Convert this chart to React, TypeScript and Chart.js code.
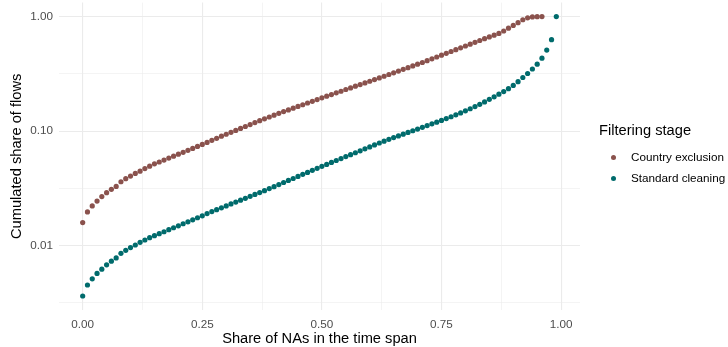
import React, { useEffect, useRef } from 'react';
import { Chart, registerables } from 'chart.js';

Chart.register(...registerables);

// Share of NAs in the time span (x values)
const naShare = [
  0, 0.01, 0.02, 0.03, 0.04, 0.05, 0.06, 0.07, 0.08, 0.09,
  0.1, 0.11, 0.12, 0.13, 0.14, 0.15, 0.16, 0.17, 0.18, 0.19,
  0.2, 0.21, 0.22, 0.23, 0.24, 0.25, 0.26, 0.27, 0.28, 0.29,
  0.3, 0.31, 0.32, 0.33, 0.34, 0.35, 0.36, 0.37, 0.38, 0.39,
  0.4, 0.41, 0.42, 0.43, 0.44, 0.45, 0.46, 0.47, 0.48, 0.49,
  0.5, 0.51, 0.52, 0.53, 0.54, 0.55, 0.56, 0.57, 0.58, 0.59,
  0.6, 0.61, 0.62, 0.63, 0.64, 0.65, 0.66, 0.67, 0.68, 0.69,
  0.7, 0.71, 0.72, 0.73, 0.74, 0.75, 0.76, 0.77, 0.78, 0.79,
  0.8, 0.81, 0.82, 0.83, 0.84, 0.85, 0.86, 0.87, 0.88, 0.89,
  0.9, 0.91, 0.92, 0.93, 0.94, 0.95, 0.96, 0.97, 0.98, 0.99,
];

// Cumulated share of flows — Country exclusion (x = 0 … 0.96)
const countryExclusion = [
  0.0159, 0.0197, 0.0222, 0.0245, 0.0268, 0.029, 0.031, 0.0329, 0.0361, 0.0384,
  0.0405, 0.0427, 0.0447, 0.0471, 0.0494, 0.0518, 0.0537, 0.0558, 0.0581, 0.0604,
  0.0628, 0.0653, 0.0679, 0.0706, 0.0735, 0.0764, 0.0796, 0.083, 0.0865, 0.0902,
  0.0938, 0.0975, 0.1014, 0.1054, 0.1096, 0.114, 0.1186, 0.1233, 0.1279, 0.1327,
  0.1377, 0.1429, 0.1479, 0.1531, 0.1585, 0.1641, 0.1698, 0.1758, 0.182, 0.1884,
  0.195, 0.2018, 0.2084, 0.2158, 0.2228, 0.2307, 0.2382, 0.2466, 0.2547, 0.2636,
  0.2723, 0.2818, 0.2911, 0.3013, 0.3119, 0.3228, 0.3342, 0.3459, 0.3581, 0.3707,
  0.3837, 0.3972, 0.4121, 0.4276, 0.4436, 0.4603, 0.4775, 0.4955, 0.514, 0.5333,
  0.5534, 0.5741, 0.5957, 0.618, 0.6412, 0.6637, 0.6871, 0.7129, 0.7482, 0.7925,
  0.8375, 0.8851, 0.9376, 0.975, 0.9931, 0.9977, 1.0,
];

// Cumulated share of flows — Standard cleaning (x = 0 … 0.99)
const standardCleaning = [
  0.00363, 0.00453, 0.00513, 0.00572, 0.00622, 0.00679, 0.00731, 0.0078, 0.00857, 0.0091,
  0.00962, 0.01012, 0.01069, 0.01119, 0.01172, 0.01222, 0.01271, 0.01321, 0.01377, 0.01432,
  0.01489, 0.01552, 0.01614, 0.01679, 0.0175, 0.0182, 0.01906, 0.01982, 0.02061, 0.02138,
  0.02223, 0.02312, 0.02399, 0.02495, 0.02588, 0.02692, 0.02799, 0.02904, 0.0302, 0.03148,
  0.03273, 0.03412, 0.03556, 0.03707, 0.03855, 0.04018, 0.04188, 0.04355, 0.04539, 0.04732,
  0.0492, 0.05117, 0.05321, 0.05534, 0.05754, 0.05984, 0.06223, 0.06471, 0.0673, 0.06998,
  0.07278, 0.07568, 0.0787, 0.08166, 0.08472, 0.0877, 0.09078, 0.09397, 0.09727, 0.1007,
  0.1042, 0.1079, 0.1117, 0.1156, 0.1197, 0.1239, 0.1285, 0.1334, 0.1387, 0.1442,
  0.1503, 0.1567, 0.1637, 0.1714, 0.1799, 0.1892, 0.1991, 0.2099, 0.2213, 0.2344,
  0.2506, 0.2698, 0.2938, 0.3184, 0.3483, 0.3837, 0.4335, 0.5093, 0.6281, 1.0,
];

const seriesNames = ['Country exclusion', 'Standard cleaning'];
const seriesColors = ['#8A524D', '#006B6C'];
const legendTitle = 'Filtering stage';

const xTickValues = [0, 0.25, 0.5, 0.75, 1];
const xTickLabels = ['0.00', '0.25', '0.50', '0.75', '1.00'];
const xMinorTicks = [0.125, 0.375, 0.625, 0.875];
const yTickValues = [0.01, 0.1, 1];
const yTickLabels = ['0.01', '0.10', '1.00'];
const yMinorTicks = [0.00316, 0.0316, 0.316];

const FONT = "'Liberation Sans', Arial, Helvetica, sans-serif";

export default function App() {
  const canvasRef = useRef<HTMLCanvasElement | null>(null);

  useEffect(() => {
    const canvas = canvasRef.current;
    if (!canvas) return;
    const seriesValues = [countryExclusion, standardCleaning];
    const datasets = seriesValues.map((vals, si) => ({
      label: seriesNames[si],
      data: vals.map((v, i) => ({ x: naShare[i], y: v })),
      backgroundColor: seriesColors[si],
      borderWidth: 0,
      pointRadius: 2.6,
      pointHoverRadius: 2.6,
    }));

    const chart = new Chart(canvas, {
      type: 'scatter',
      data: { datasets },
      options: {
        animation: false,
        responsive: false,
        devicePixelRatio: 1,
        layout: { padding: { top: 1, right: 148, left: 0, bottom: 0 } },
        plugins: { legend: { display: false }, tooltip: { enabled: false } },
        scales: {
          x: {
            type: 'linear',
            min: -0.0495,
            max: 1.0395,
            afterBuildTicks: (s: any) => {
              s.ticks = [...xMinorTicks, ...xTickValues]
                .sort((a, b) => a - b)
                .map((v) => ({ value: v }));
            },
            afterFit: (s: any) => {
              s.height = 37;
              s.paddingLeft = 0;
              s.paddingRight = 0;
            },
            grid: {
              color: '#EBEBEB',
              lineWidth: (c: any) => (c.tick && xTickValues.includes(c.tick.value) ? 1.1 : 0.55),
              drawTicks: false,
            },
            border: { display: false },
            ticks: {
              padding: 8,
              color: '#4D4D4D',
              autoSkip: false,
              maxRotation: 0,
              font: { size: 11.7, family: FONT },
              callback: (v: any) => {
                const i = xTickValues.indexOf(v);
                return i >= 0 ? xTickLabels[i] : '';
              },
            },
            title: {
              display: true,
              text: 'Share of NAs in the time span',
              color: '#000000',
              font: { size: 14.67, family: FONT, lineHeight: 1.1 },
              padding: { top: 0, bottom: 0 },
            },
          },
          y: {
            type: 'logarithmic',
            min: 0.00274,
            max: 1.324,
            afterBuildTicks: (s: any) => {
              s.ticks = [...yMinorTicks, ...yTickValues]
                .sort((a, b) => a - b)
                .map((v) => ({ value: v }));
            },
            afterFit: (s: any) => {
              s.width = 59;
              s.paddingTop = 0;
              s.paddingBottom = 0;
            },
            grid: {
              color: '#EBEBEB',
              lineWidth: (c: any) => (c.tick && yTickValues.includes(c.tick.value) ? 1.1 : 0.55),
              drawTicks: false,
            },
            border: { display: false },
            ticks: {
              padding: 6,
              color: '#4D4D4D',
              autoSkip: false,
              font: { size: 11.7, family: FONT },
              callback: (v: any) => {
                const i = yTickValues.indexOf(v);
                return i >= 0 ? yTickLabels[i] : '';
              },
            },
            title: {
              display: true,
              text: 'Cumulated share of flows',
              color: '#000000',
              font: { size: 14.67, family: FONT },
              padding: { top: 8, bottom: 0 },
            },
          },
        },
      },
    });
    return () => chart.destroy();
  }, []);

  return (
    <div
      style={{
        position: 'fixed',
        left: 0,
        top: 0,
        width: 728,
        height: 347,
        background: '#ffffff',
        overflow: 'hidden',
        fontFamily: FONT,
      }}
    >
      <canvas ref={canvasRef} width={728} height={347} style={{ display: 'block' }} />
      <div
        style={{
          position: 'absolute',
          left: 599,
          top: 121,
          fontSize: 14.67,
          lineHeight: '18px',
          color: '#000',
          whiteSpace: 'nowrap',
        }}
      >
        {legendTitle}
      </div>
      {seriesNames.map((name, i) => (
        <div key={name}>
          <div
            style={{
              position: 'absolute',
              left: 611,
              top: 154.5 + i * 21,
              width: 5.2,
              height: 5.2,
              borderRadius: '50%',
              background: seriesColors[i],
            }}
          />
          <div
            style={{
              position: 'absolute',
              left: 631,
              top: 150 + i * 21,
              fontSize: 11.7,
              lineHeight: '14px',
              color: '#000',
              whiteSpace: 'nowrap',
            }}
          >
            {name}
          </div>
        </div>
      ))}
    </div>
  );
}
